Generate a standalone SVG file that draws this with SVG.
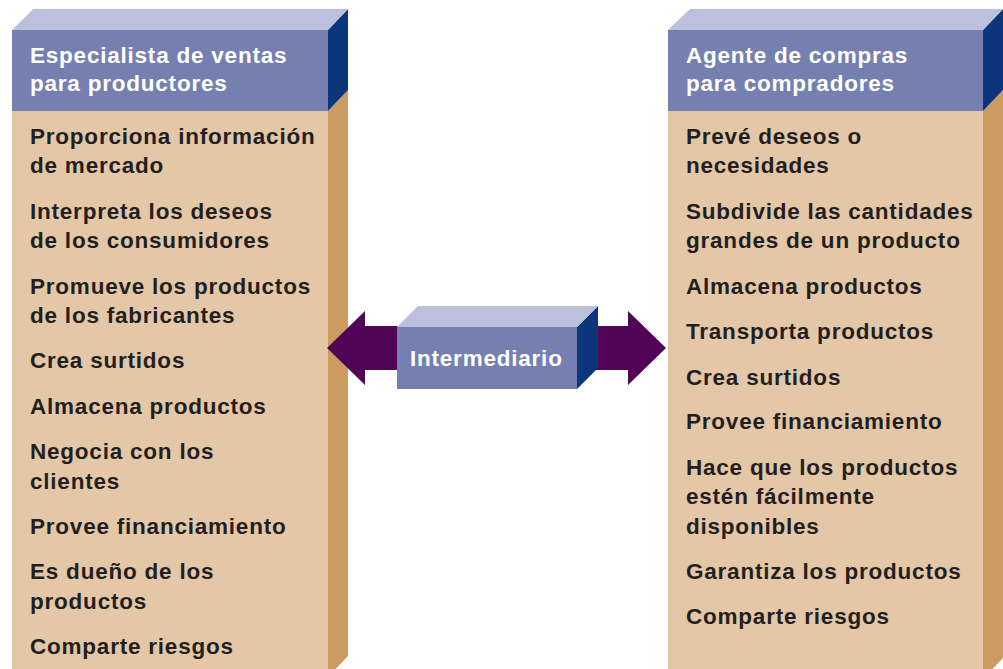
<svg xmlns="http://www.w3.org/2000/svg" width="1003" height="669" viewBox="0 0 1003 669">
<style>
.top{fill:#bcc0dc}
.front{fill:#7580b0}
.sideb{fill:#0b367c}
.body{fill:#e4c7a6}
.sidet{fill:#cc9b62}
.arrow{fill:#520457}
.h{font-family:"Liberation Sans",Arial,sans-serif;font-weight:bold;font-size:22.5px;letter-spacing:0.78px;fill:#ffffff}
.t{font-family:"Liberation Sans",Arial,sans-serif;font-weight:bold;font-size:22.5px;letter-spacing:0.78px;fill:#231f20}
</style>
<rect width="1003" height="669" fill="#ffffff"/>
<g id="left-box">
<polygon class="sidet" points="328,111 348,90 348,656 328,677"/>
<polygon class="sideb" points="328,30 348,9 348,90 328,111"/>
<polygon class="top" points="12,30 33,9 348,9 328,30"/>
<rect class="front" x="12" y="30" width="316" height="81"/>
<rect class="body" x="12" y="111" width="316" height="558"/>
<text class="h" x="30" y="63">Especialista de ventas</text>
<text class="h" x="30" y="91">para productores</text>
<text class="t" x="30" y="143.5">Proporciona información</text>
<text class="t" x="30" y="173">de mercado</text>
<text class="t" x="30" y="219">Interpreta los deseos</text>
<text class="t" x="30" y="248">de los consumidores</text>
<text class="t" x="30" y="294">Promueve los productos</text>
<text class="t" x="30" y="323">de los fabricantes</text>
<text class="t" x="30" y="368">Crea surtidos</text>
<text class="t" x="30" y="414">Almacena productos</text>
<text class="t" x="30" y="459">Negocia con los</text>
<text class="t" x="30" y="489">clientes</text>
<text class="t" x="30" y="534">Provee financiamiento</text>
<text class="t" x="30" y="579">Es dueño de los</text>
<text class="t" x="30" y="609">productos</text>
<text class="t" x="30" y="654">Comparte riesgos</text>
</g>
<g id="right-box">
<polygon class="sidet" points="983,111 1003,90 1003,658 983,679"/>
<polygon class="sideb" points="983,30 1003,9 1003,90 983,111"/>
<polygon class="top" points="668,30 690,9 1003,9 983,30"/>
<rect class="front" x="668" y="30" width="315" height="81"/>
<rect class="body" x="668" y="111" width="315" height="558"/>
<text class="h" x="686" y="63">Agente de compras</text>
<text class="h" x="686" y="91">para compradores</text>
<text class="t" x="686" y="143.5">Prevé deseos o</text>
<text class="t" x="686" y="173">necesidades</text>
<text class="t" x="686" y="219">Subdivide las cantidades</text>
<text class="t" x="686" y="248">grandes de un producto</text>
<text class="t" x="686" y="294">Almacena productos</text>
<text class="t" x="686" y="339">Transporta productos</text>
<text class="t" x="686" y="385">Crea surtidos</text>
<text class="t" x="686" y="429">Provee financiamiento</text>
<text class="t" x="686" y="475">Hace que los productos</text>
<text class="t" x="686" y="504">estén fácilmente</text>
<text class="t" x="686" y="534">disponibles</text>
<text class="t" x="686" y="579">Garantiza los productos</text>
<text class="t" x="686" y="624">Comparte riesgos</text>
</g>
<g id="connectors">
<polygon class="arrow" points="327,348 365,311 365,326 400,326 400,370 365,370 365,385"/>
<polygon class="arrow" points="666,348 628,311 628,326 585,326 585,370 628,370 628,385"/>
</g>
<g id="intermediario">
<polygon class="sideb" points="577,327 598,306 598,368 577,389"/>
<polygon class="top" points="397,327 418,306 598,306 577,327"/>
<rect class="front" x="397" y="327" width="180" height="62"/>
<text class="h" x="410" y="366">Intermediario</text>
</g>
</svg>
